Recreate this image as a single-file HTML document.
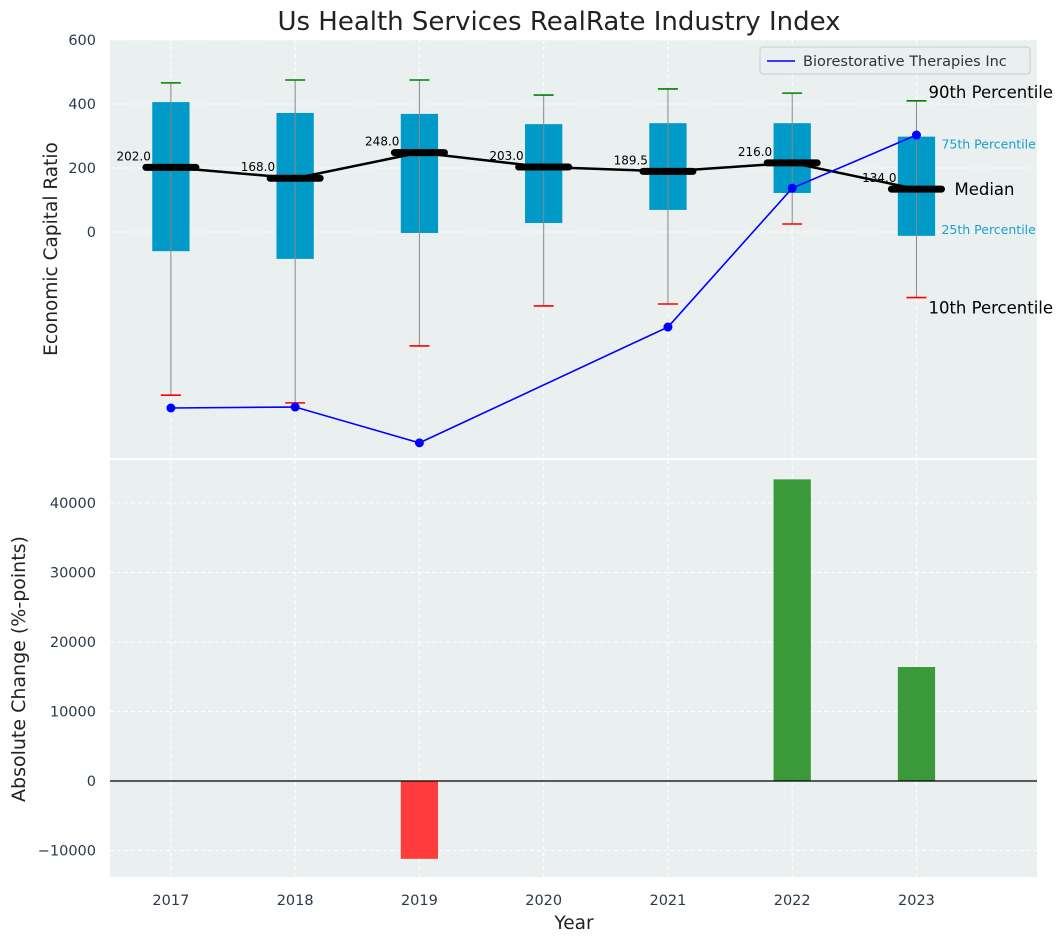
<!DOCTYPE html>
<html><head><meta charset="utf-8"><style>
body{margin:0;background:#fff;font-family:"Liberation Sans","DejaVu Sans",sans-serif;}
svg text{font-family:"DejaVu Sans","Liberation Sans",sans-serif;}
</style></head><body>
<svg id="c" width="1063" height="942" xmlns="http://www.w3.org/2000/svg"></svg>
<script>
const years=[2017,2018,2019,2020,2021,2022,2023];
const p10=[-510,-534,-356,-231,-225,25,-205];
const q1=[-60,-84,-3,28,69,122,-12];
const med=[202,168,248,203,189.5,216,134];
const q3=[406,372,369,337,340,340,298];
const p90=[466,475,475,428,447,434,410];
const company=[-550,-547,-659,null,-297,137,303];
const changeYears=[2019,2022,2023];
const changes=[-11200,43400,16400];
const topTicks=[0,200,400,600];
const botTicks=[-10000,0,10000,20000,30000,40000];

const svg=document.getElementById('c');
const NS='http://www.w3.org/2000/svg';
function el(t,a,p){const e=document.createElementNS(NS,t);for(const k in a)e.setAttribute(k,a[k]);(p||svg).appendChild(e);return e;}
const L=110,R=1037;
const x=v=>L+(v-2016.51)/(2023.97-2016.51)*(R-L);
const T0=40,T1=458; const yT=v=>232-v*0.32;
const B0=460,B1=877; const yB=v=>781-v*0.00695;

let g=el('rect',{x:L,y:T0,width:R-L,height:T1-T0,fill:'#eaeff0'});

g=el('rect',{x:L,y:B0,width:R-L,height:B1-B0,fill:'#eaeff0'});


years.forEach(yr=>{
 el('line',{x1:x(yr),x2:x(yr),y1:T0,y2:T1,stroke:'#fff','stroke-dasharray':'4,3','stroke-width':1});
 el('line',{x1:x(yr),x2:x(yr),y1:B0,y2:B1,stroke:'#fff','stroke-dasharray':'4,3','stroke-width':1});
});
topTicks.forEach(v=>{
 el('line',{x1:L,x2:R,y1:yT(v),y2:yT(v),stroke:'#fff','stroke-dasharray':'4,3'});
 const t=el('text',{x:96,y:yT(v)+5,'text-anchor':'end','font-size':14.5,fill:'#2b3a4a'});t.textContent=v;
 
});
botTicks.forEach(v=>{
 el('line',{x1:L,x2:R,y1:yB(v),y2:yB(v),stroke:'#fff','stroke-dasharray':'4,3'});
 const t=el('text',{x:96,y:yB(v)+5,'text-anchor':'end','font-size':14.5,fill:'#2b3a4a'});t.textContent=(v<0?'\u2212'+(-v):v);
 
});

const hw=0.15*(R-L)/(2023.97-2016.51);
years.forEach((yr,i)=>{
 const cx=x(yr);
 let b=el('rect',{x:cx-hw,y:yT(q3[i]),width:2*hw,height:yT(q1[i])-yT(q3[i]),fill:'#009ac9'});
 
 el('line',{x1:cx,x2:cx,y1:yT(p90[i]),y2:yT(p10[i]),stroke:'#888','stroke-width':1});
 el('line',{x1:cx-10,x2:cx+10,y1:yT(p90[i]),y2:yT(p90[i]),stroke:'green','stroke-width':1.6});
 el('line',{x1:cx-10,x2:cx+10,y1:yT(p10[i]),y2:yT(p10[i]),stroke:'red','stroke-width':1.6});
});
let pts=years.map((yr,i)=>x(yr)+','+yT(med[i])).join(' ');
g=el('polyline',{points:pts,fill:'none',stroke:'#000','stroke-width':2.5});

years.forEach((yr,i)=>{
 const cx=x(yr);
 el('line',{x1:cx-25,x2:cx+25,y1:yT(med[i]),y2:yT(med[i]),stroke:'#000','stroke-width':7,'stroke-linecap':'round'});
 const t=el('text',{x:cx-20,y:yT(med[i])-7,'text-anchor':'end','font-size':12,fill:'#000'});t.textContent=med[i].toFixed(1);
 
});
let cp=[];years.forEach((yr,i)=>{if(company[i]!==null)cp.push([x(yr),yT(company[i])]);});
g=el('polyline',{points:cp.map(p=>p.join(',')).join(' '),fill:'none',stroke:'blue','stroke-width':1.6});

cp.forEach(p=>{const c=el('circle',{cx:p[0],cy:p[1],r:4.5,fill:'blue'});});

const ax=x(2023);
[['90th Percentile',ax+12,yT(p90[6])-3,16.5,'#000'],['75th Percentile',ax+25,yT(q3[6])+12,12.5,'#1a9fcc'],['Median',ax+38,yT(med[6])+6,16.5,'#000'],['25th Percentile',ax+25,yT(q1[6])-2,12.5,'#1a9fcc'],['10th Percentile',ax+12,yT(p10[6])+16,16.5,'#000']].forEach(a=>{
 const t=el('text',{x:a[1],y:a[2],'font-size':a[3],fill:a[4]});t.textContent=a[0];
 
});

g=el('rect',{x:760,y:47,width:270,height:27,rx:3,fill:'#eaeff0',stroke:'#ccc'});

el('line',{x1:767,x2:795,y1:61,y2:61,stroke:'blue','stroke-width':1.6});
g=el('text',{x:803,y:66,'font-size':14.5,fill:'#333'});g.textContent='Biorestorative Therapies Inc';


changeYears.forEach((yr,i)=>{
 const v=changes[i];
 const b=el('rect',{x:x(yr)-hw,y:Math.min(yB(v),yB(0)),width:2*hw,height:Math.abs(yB(v)-yB(0)),fill:v<0?'#ff3b3b':'#3a9a3a'});
 
});
el('line',{x1:L,x2:R,y1:yB(0),y2:yB(0),stroke:'#000','stroke-width':1.2});

years.forEach(yr=>{
 const t=el('text',{x:x(yr),y:905,'text-anchor':'middle','font-size':14.5,fill:'#2b3a4a'});t.textContent=yr;
 
});
g=el('text',{x:574,y:929,'text-anchor':'middle','font-size':18.5,fill:'#222'});g.textContent='Year';

g=el('text',{x:57,y:249,'text-anchor':'middle','font-size':18.5,fill:'#222',transform:'rotate(-90 57 249)'});g.textContent='Economic Capital Ratio';

g=el('text',{x:25,y:669,'text-anchor':'middle','font-size':19,fill:'#222',transform:'rotate(-90 25 669)'});g.textContent='Absolute Change (%-points)';

g=el('text',{x:559,y:30,'text-anchor':'middle','font-size':26,fill:'#222'});g.textContent='Us Health Services RealRate Industry Index';

</script>
</body></html>
